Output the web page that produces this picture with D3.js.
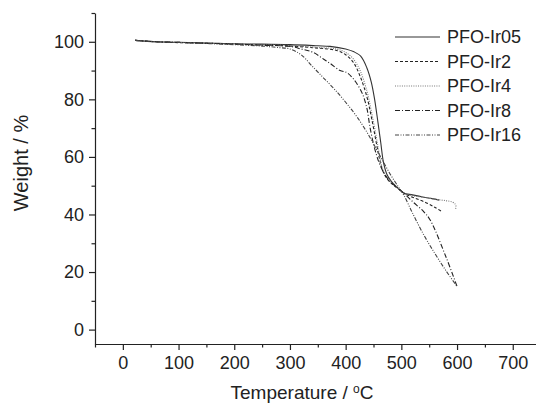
<!DOCTYPE html>
<html>
<head>
<meta charset="utf-8">
<script src="https://cdn.jsdelivr.net/npm/d3@7"></script>
<style>
    body { margin: 0; background: #fff; }
    text { font-family: "Liberation Sans", Arial, sans-serif; fill: #222; }
</style>
</head>
<body>
<div id="chart"></div>
<script>
// series names and line dashes (legend order)
const seriesNames = ["PFO-Ir05", "PFO-Ir2", "PFO-Ir4", "PFO-Ir8", "PFO-Ir16"];

// [temperature °C, weight %]
const pfoIr05 = [[22,100.5],[60,100],[100,99.8],[150,99.6],[200,99.3],[250,99.2],[300,99],[350,98.6],[372,98.4],[400,97.5],[415,96.5],[427,95],[438,91],[446,86],[452,80],[458,72],[463,65],[468,58],[474,54],[482,51.5],[492,49.5],[504,47.5],[520,46.8],[540,46],[555,45.5],[568,45]];
const pfoIr2 = [[22,100.5],[60,100],[100,99.7],[150,99.5],[200,99.2],[250,98.9],[300,98.5],[350,97.8],[384,97],[400,95.5],[414,92.8],[426,88],[438,81],[446,74],[454,66],[460,60],[466,55.5],[474,52.5],[484,50.5],[495,48.8],[504,47.5],[520,46],[540,44.5],[560,42.5],[573,41]];
const pfoIr4 = [[22,100.5],[60,100],[100,99.8],[150,99.5],[200,99.3],[250,99],[300,98.7],[350,98],[384,97.5],[400,96.3],[414,94],[426,90],[438,83],[446,76],[454,68],[460,61.5],[466,56],[474,53],[484,50.8],[495,49],[504,47.5],[520,46.5],[540,46],[560,45.3],[580,44.8],[592,44.3],[597,43.5],[598,42.3],[596,41.7]];
const pfoIr8 = [[22,100.5],[60,100],[100,99.8],[150,99.5],[200,99.2],[250,98.8],[300,98.4],[320,97.5],[342,96.3],[360,94],[372,92.5],[390,90],[402,89.3],[412,87.5],[420,85.5],[430,82],[438,77],[444,70],[452,63],[460,58],[470,54],[482,51],[495,49],[504,47.5],[520,44.5],[540,41],[552,38],[580,25.3],[600,15]];
const pfoIr16 = [[22,100.5],[60,100],[100,99.8],[150,99.4],[200,99],[250,98.5],[280,98],[300,97.5],[320,95.5],[340,91.5],[360,87.5],[380,83.5],[400,79],[420,74],[440,68],[460,61],[480,54],[495,49.5],[505,46.5],[520,40.5],[540,33],[560,26.5],[580,20.5],[600,15]];

const xTicks = [0, 100, 200, 300, 400, 500, 600, 700];
const yTicks = [0, 20, 40, 60, 80, 100];

const seriesData = [pfoIr05, pfoIr2, pfoIr4, pfoIr8, pfoIr16];
const dashes = ["none", "3,2", "1,1.3", "5,2,1,2", "4,1.5,1,1.5,1,1.5"];
const strokes = ["#333", "#222", "#777", "#222", "#444"];

const width = 536, height = 407;

const svg = d3.select("#chart")
    .append("svg")
    .attr("width", width)
    .attr("height", height);

// scales
const x = d3.scaleLinear().domain([-50, 750]).range([95, 540.6]);
const y = d3.scaleLinear().domain([-5, 110]).range([344, 13]);

// X axis (major + minor)
svg.append("g")
    .attr("transform", "translate(0," + y(-5) + ")")
    .call(d3.axisBottom(x).tickValues(d3.range(-50, 751, 100)).tickSize(3.5).tickFormat(""))
    .call(g => g.select(".domain").remove());
svg.append("g")
    .attr("class", "x-axis")
    .attr("transform", "translate(0," + y(-5) + ")")
    .call(d3.axisBottom(x).tickValues(xTicks).tickSize(6).tickSizeOuter(0).tickPadding(6))
    .selectAll("text")
    .style("font-size", "18px");

// Y axis (major + minor)
svg.append("g")
    .attr("transform", "translate(" + x(-50) + ",0)")
    .call(d3.axisLeft(y).tickValues(d3.range(10, 111, 20)).tickSize(3.5).tickFormat(""))
    .call(g => g.select(".domain").remove());
svg.append("g")
    .attr("class", "y-axis")
    .attr("transform", "translate(" + x(-50) + ",0)")
    .call(d3.axisLeft(y).tickValues(yTicks).tickSize(6).tickSizeOuter(0).tickPadding(5))
    .selectAll("text")
    .style("font-size", "18px");

svg.selectAll(".domain, .tick line").attr("stroke", "#222").attr("stroke-width", 1.2);

// axis titles
svg.append("text")
    .attr("x", 302)
    .attr("y", 399)
    .attr("text-anchor", "middle")
    .style("font-size", "19px")
    .text("Temperature / ")
    .append("tspan").attr("dy", -6).style("font-size", "12px").text("o")
    .select(function() { return this.parentNode; })
    .append("tspan").attr("dy", 6).text("C");

svg.append("text")
    .attr("transform", "translate(28,163) rotate(-90)")
    .attr("text-anchor", "middle")
    .style("font-size", "20px")
    .text("Weight / %");

// curves
const line = d3.line()
    .x(d => x(d[0]))
    .y(d => y(d[1]))
    .curve(d3.curveCatmullRom.alpha(0.5));

svg.selectAll(".curve")
    .data(seriesData)
    .enter()
    .append("path")
    .attr("class", "curve")
    .attr("d", line)
    .attr("fill", "none")
    .attr("stroke", (d, i) => strokes[i])
    .attr("stroke-width", 1.1)
    .attr("stroke-dasharray", (d, i) => dashes[i]);

// legend
const legend = svg.append("g").attr("transform", "translate(395,37)");
const rows = legend.selectAll("g")
    .data(seriesNames)
    .enter()
    .append("g")
    .attr("transform", (d, i) => "translate(0," + i * 24.5 + ")");
rows.append("line")
    .attr("x1", 0).attr("x2", 45)
    .attr("stroke", (d, i) => strokes[i])
    .attr("stroke-width", 1.1)
    .attr("stroke-dasharray", (d, i) => dashes[i]);
rows.append("text")
    .attr("x", 52)
    .attr("dy", "0.36em")
    .style("font-size", "18px")
    .text(d => d);
</script>
</body>
</html>
